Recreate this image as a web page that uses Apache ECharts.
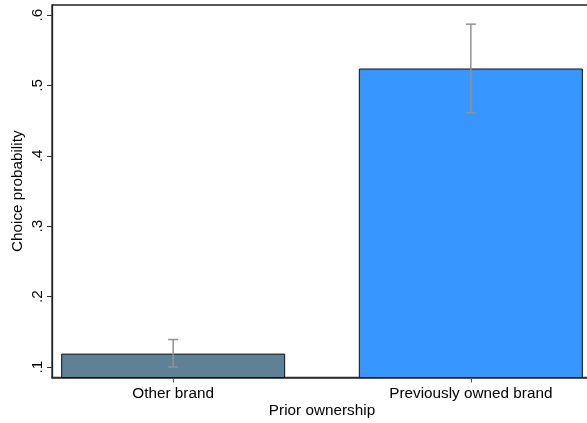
<!DOCTYPE html>
<html>
<head>
<meta charset="utf-8">
<script src="https://cdn.jsdelivr.net/npm/echarts@6/dist/echarts.min.js"></script>
<style>
  html, body { margin: 0; padding: 0; background: #fff; }
  #chart { width: 587px; height: 423px; }
</style>
</head>
<body>
<div id="chart"></div>
<script>
// Choice probability by prior ownership, with confidence intervals
const categories = ['Other brand', 'Previously owned brand'];
const probability = [0.119, 0.524];
const ciLower = [0.100, 0.461];
const ciUpper = [0.139, 0.587];
const yTicks = [0.1, 0.2, 0.3, 0.4, 0.5, 0.6];
const barColors = ['#5f8196', '#3796ff'];

const positions = categories.map((c, i) => i);
const font = 'Liberation Sans, Arial, Helvetica, sans-serif';
const fs = 15.3;

const chart = echarts.init(document.getElementById('chart'), null, { renderer: 'canvas' });

chart.setOption({
  animation: false,
  backgroundColor: '#ffffff',
  grid: {
    left: 52, top: 5, right: -5, bottom: 45.5,
    outerBoundsMode: 'none',
    containLabel: false,
    show: true, borderColor: '#222', borderWidth: 1.3, backgroundColor: 'transparent'
  },
  xAxis: {
    type: 'value',
    min: -0.407, max: 1.407,
    name: 'Prior ownership',
    nameLocation: 'middle',
    nameMoveOverlap: false,
    nameGap: 25.5,
    nameTextStyle: { fontFamily: font, fontSize: fs, color: '#000' },
    splitLine: { show: false },
    axisLine: { show: true, onZero: false, lineStyle: { color: '#333', width: 1.5 } },
    axisTick: { show: true, length: 5, customValues: positions, lineStyle: { color: '#555' } },
    axisLabel: {
      customValues: positions,
      fontFamily: font, fontSize: fs, color: '#000', margin: 9,
      formatter: v => categories[Math.round(v)]
    }
  },
  yAxis: {
    type: 'value',
    min: 0.1 - 10.5 / 704, max: 0.6 + 10 / 704,
    name: 'Choice probability',
    nameLocation: 'middle',
    nameMoveOverlap: false,
    nameGap: 27,
    nameTextStyle: { fontFamily: font, fontSize: fs, color: '#000' },
    splitLine: { show: false },
    axisLine: { show: true, onZero: false, lineStyle: { color: '#222', width: 1.3 } },
    axisTick: { show: true, length: 5, customValues: yTicks, lineStyle: { color: '#333' } },
    axisLabel: {
      customValues: yTicks,
      rotate: 90,
      fontFamily: font, fontSize: fs, color: '#000', margin: 7,
      formatter: v => String(Math.round(v * 10) / 10).replace(/^0/, '')
    }
  },
  series: [
    {
      type: 'bar',
      barWidth: 224,
      data: probability.map((p, i) => ({
        value: [positions[i], p],
        itemStyle: { color: barColors[i], borderColor: '#111', borderWidth: 1 }
      }))
    },
    {
      type: 'custom',
      z: 5,
      data: positions.map((x, i) => [x, ciLower[i], ciUpper[i]]),
      renderItem: function (params, api) {
        const lo = api.coord([api.value(0), api.value(1)]);
        const hi = api.coord([api.value(0), api.value(2)]);
        const cap = 5;
        const style = { stroke: '#929292', lineWidth: 1.5 };
        return {
          type: 'group',
          children: [
            { type: 'line', shape: { x1: hi[0], y1: hi[1], x2: lo[0], y2: lo[1] }, style },
            { type: 'line', shape: { x1: hi[0] - cap, y1: hi[1], x2: hi[0] + cap, y2: hi[1] }, style },
            { type: 'line', shape: { x1: lo[0] - cap, y1: lo[1], x2: lo[0] + cap, y2: lo[1] }, style }
          ]
        };
      }
    }
  ]
});
</script>
</body>
</html>
